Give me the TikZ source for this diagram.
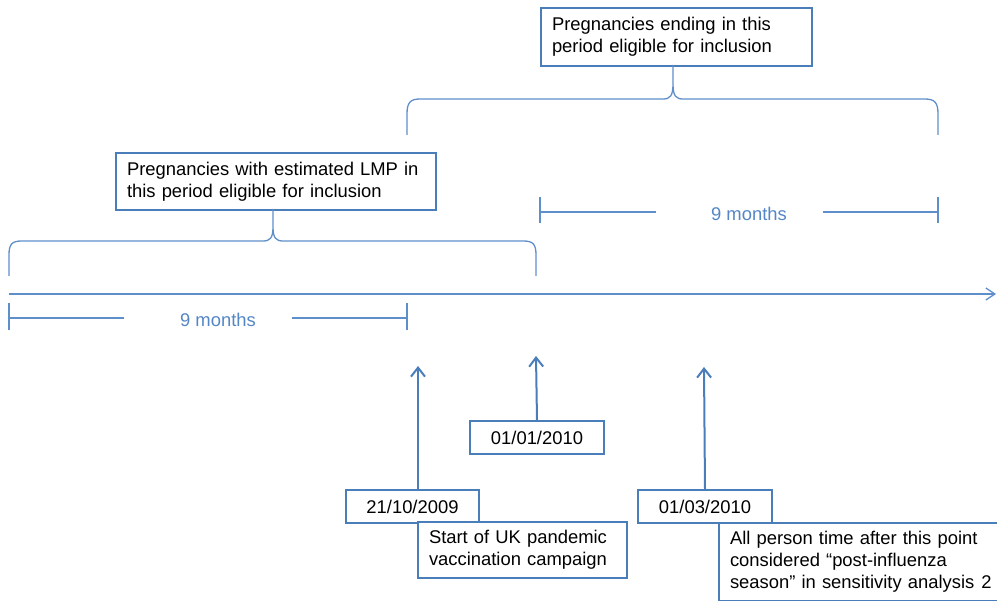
\documentclass[tikz,border=0pt]{standalone}
\usepackage{fontspec}
\setmainfont{Liberation Sans}
\usetikzlibrary{arrows.meta}
\definecolor{boxblue}{RGB}{74,126,187}
\definecolor{lineblue}{RGB}{95,143,203}
\definecolor{labelblue}{RGB}{84,134,198}

\begin{document}
\begin{tikzpicture}[x=1pt, y=-1pt,
  every node/.style={font=\fontsize{18.4}{22}\selectfont, anchor=north west, inner sep=0pt},
  textbox/.style={draw=boxblue, line width=2pt, fill=white, align=left, inner xsep=11pt},
  datebox/.style={draw=boxblue, line width=2pt, fill=white, minimum height=33pt},
  pointer/.style={draw=boxblue, line width=2pt, -{Straight Barb[length=9pt,width=14pt]}},
  period/.style={draw=lineblue, line width=1.3pt},
  measure/.style={draw=lineblue, line width=1.1pt},
  months/.style={text=labelblue, anchor=base}]
	\useasboundingbox (0,0) rectangle (997,601);
	\clip (0,0) rectangle (997,601);

	% inclusion periods
	\node[textbox, text width=249pt, minimum height=58pt](endbox) at (540,7) {Pregnancies ending in this\\period eligible for inclusion};
	\node[textbox, text width=298pt, minimum height=57pt](lmpbox) at (115,152) {Pregnancies with estimated LMP in\\this period eligible for inclusion};
	\draw[period] (407,135) -- (407,114) .. controls (407,103) and (410,99) .. (420,99) -- (663,99) .. controls (670,99) and (673,96) .. (673,84) -- (673,65) -- (673,84) .. controls (673,96) and (676,99) .. (683,99) -- (925,99) .. controls (935,99) and (938,103) .. (938,114) -- (938,135);
	\draw[period] (9,276) -- (9,255) .. controls (9,244) and (12,241) .. (22,241) -- (263,241) .. controls (270,241) and (273,238) .. (273,227) -- (273,209) -- (273,227) .. controls (273,238) and (276,241) .. (283,241) -- (523,241) .. controls (533,241) and (536,244) .. (536,255) -- (536,276);

	% time line
	\coordinate (origin) at (9,294);
	\coordinate (future) at (996,294);
	\draw[period, -{Straight Barb[length=9pt,width=12pt]}] (origin) -- (future);

	% nine months
	\node[months](uplabel) at (749,221) {9 months};
	\draw[measure] (540,197) -- (540,223) (540,212) -- (656,212) (823,212) -- (938,212) (938,197) -- (938,223);
	\node[months](lowlabel) at (218,327) {9 months};
	\draw[measure] (9,303) -- (9,330) (9,318) -- (124,318) (292,318) -- (407,318) (407,303) -- (407,330);

	% dates
	\node[datebox, minimum width=133pt](oct) at (345,489) {21/10/2009};
	\node[textbox, text width=187pt, minimum height=56pt](campaign) at (417,521) {Start of UK pandemic\\vaccination campaign};
	\node[datebox, minimum width=134pt](jan) at (469,420) {01/01/2010};
	\node[datebox, minimum width=134pt](mar) at (637,489) {01/03/2010};
	\node[textbox, text width=300pt, minimum height=78pt](posttime) at (718,522) {All person time after this point\\considered “post-influenza\\season” in sensitivity analysis\hspace{7pt}2};
	\coordinate (octpoint) at (418,366);
	\coordinate (janpoint) at (536,356);
	\coordinate (marpoint) at (704,367);
	\draw[pointer] (octpoint |- oct.north) -- (octpoint);
	\draw[pointer] (jan.north) -- (janpoint);
	\draw[pointer] (mar.north) -- (marpoint);
\end{tikzpicture}
\end{document}
